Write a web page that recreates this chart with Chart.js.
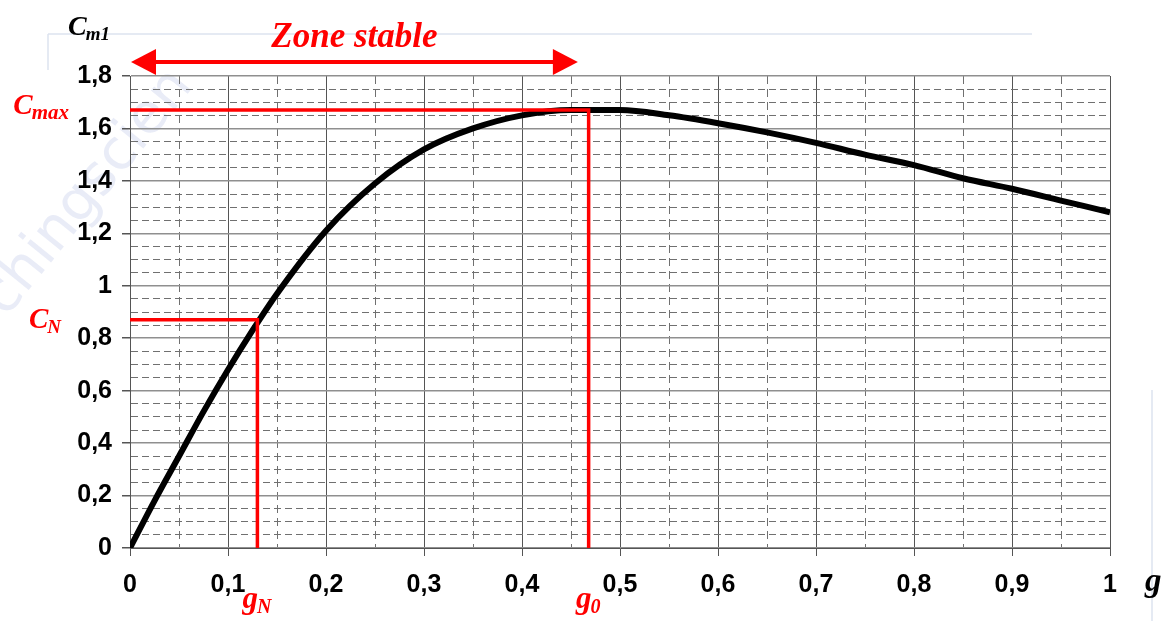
<!DOCTYPE html>
<html>
<head>
<meta charset="utf-8">
<script src="https://cdn.jsdelivr.net/npm/chart.js@4.4.0/dist/chart.umd.min.js"></script>
<style>
    html, body { margin: 0; padding: 0; background: #fff; }
    #dashboard { width: 1170px; height: 621px; position: relative; }
</style>
</head>
<body>
<div id="dashboard"><canvas id="myChart"></canvas></div>
<script>
// glissement g et couple Cm1
const gValues = [0, 0.025, 0.05, 0.075, 0.1, 0.125, 0.15, 0.2, 0.25, 0.3, 0.35, 0.4, 0.45, 0.5,
    0.55, 0.6, 0.65, 0.7, 0.75, 0.8, 0.85, 0.9, 0.95, 1];
const cValues = [0, 0.18, 0.35, 0.52, 0.68, 0.83, 0.97, 1.21, 1.39, 1.52, 1.60, 1.65, 1.67, 1.67,
    1.65, 1.62, 1.585, 1.545, 1.50, 1.46, 1.41, 1.37, 1.325, 1.28];

// points remarquables
const gN = 0.13;
const cN = 0.87;
const g0 = 0.468;
const cMax = 1.67;
const zoneStable = [0, 0.457];

const xRange = [0, 1];
const yRange = [0, 1.8];

const RED = '#ff0000';
const SERIF = '"Liberation Serif", "Times New Roman", serif';

function isMajor(value, step) {
    return Math.round(value * 100) % step === 0;
}

function tickText(value) {
    return String(Math.round(value * 10) / 10).replace('.', ',');
}

// texte avec indice
function subText(ctx, x, y, main, sub, size, subSize, color, align) {
    ctx.font = 'bold italic ' + size + 'px ' + SERIF;
    var w1 = ctx.measureText(main).width;
    ctx.font = 'bold italic ' + subSize + 'px ' + SERIF;
    var w2 = ctx.measureText(sub).width;
    var start = x;
    if (align === 'right') start = x - w1 - w2;
    if (align === 'center') start = x - (w1 + w2) / 2;
    ctx.fillStyle = color;
    ctx.textAlign = 'left';
    ctx.textBaseline = 'alphabetic';
    ctx.font = 'bold italic ' + size + 'px ' + SERIF;
    ctx.fillText(main, start, y);
    ctx.font = 'bold italic ' + subSize + 'px ' + SERIF;
    ctx.fillText(sub, start + w1 - 1, y + 5);
}

const annotations = {
    id: 'annotations',
    beforeDraw(chart) {
        var ctx = chart.ctx;
        ctx.save();
        // filigrane
        ctx.translate(6, 318);
        ctx.rotate(-51 * Math.PI / 180);
        ctx.font = '56px "DejaVu Sans", sans-serif';
        ctx.fillStyle = 'rgba(175, 188, 225, 0.28)';
        ctx.fillText('chingscien', 0, 0);
        ctx.restore();

        // cadre clair
        ctx.save();
        ctx.strokeStyle = '#dde3ef';
        ctx.lineWidth = 1.5;
        ctx.beginPath();
        ctx.moveTo(48, 34);
        ctx.lineTo(1032, 34);
        ctx.moveTo(48, 34);
        ctx.lineTo(48, 70);
        ctx.moveTo(1152, 390);
        ctx.lineTo(1152, 621);
        ctx.stroke();
        ctx.restore();
    },
    afterDraw(chart) {
        var ctx = chart.ctx;
        var xs = chart.scales.x;
        var ys = chart.scales.y;
        var area = chart.chartArea;
        ctx.save();

        // titres des axes
        subText(ctx, 68, 35, 'C', 'm1', 28, 19, '#000', 'left');
        ctx.fillStyle = '#000';
        ctx.font = 'bold italic 33px ' + SERIF;
        ctx.textAlign = 'left';
        ctx.fillText('g', 1145, 591);

        // zone stable
        var ya = area.top - 14;
        var xa = xs.getPixelForValue(zoneStable[0]) + 1;
        var xb = xs.getPixelForValue(zoneStable[1]);
        ctx.strokeStyle = RED;
        ctx.fillStyle = RED;
        ctx.lineWidth = 4;
        ctx.beginPath();
        ctx.moveTo(xa + 20, ya);
        ctx.lineTo(xb - 20, ya);
        ctx.stroke();
        ctx.beginPath();
        ctx.moveTo(xa, ya);
        ctx.lineTo(xa + 25, ya - 13);
        ctx.lineTo(xa + 25, ya + 13);
        ctx.closePath();
        ctx.fill();
        ctx.beginPath();
        ctx.moveTo(xb, ya);
        ctx.lineTo(xb - 25, ya - 13);
        ctx.lineTo(xb - 25, ya + 13);
        ctx.closePath();
        ctx.fill();
        ctx.font = 'bold italic 35px ' + SERIF;
        ctx.textAlign = 'center';
        ctx.fillText('Zone stable', (xa + xb) / 2, 47);

        // etiquettes rouges
        subText(ctx, 70, ys.getPixelForValue(cMax) + 4, 'C', 'max', 29, 21, RED, 'right');
        subText(ctx, 62, ys.getPixelForValue(cN) + 8, 'C', 'N', 29, 19, RED, 'right');
        subText(ctx, xs.getPixelForValue(gN), 608, 'g', 'N', 31, 20, RED, 'center');
        subText(ctx, xs.getPixelForValue(g0), 608, 'g', '0', 31, 20, RED, 'center');
        ctx.restore();
    }
};

const curve = gValues.map(function (g, i) { return {x: g, y: cValues[i]}; });

const data = {
    datasets: [{
        label: 'Cmax',
        data: [{x: xRange[0], y: cMax}, {x: g0, y: cMax}, {x: g0, y: yRange[0]}],
        borderColor: RED,
        borderWidth: 3.5,
        pointRadius: 0,
        tension: 0
    }, {
        label: 'CN',
        data: [{x: xRange[0], y: cN}, {x: gN, y: cN}, {x: gN, y: yRange[0]}],
        borderColor: RED,
        borderWidth: 3.5,
        pointRadius: 0,
        tension: 0
    }, {
        label: 'Cm1',
        data: curve,
        borderColor: '#000',
        borderWidth: 6,
        pointRadius: 0,
        cubicInterpolationMode: 'monotone'
    }]
};

const config = {
    type: 'line',
    data: data,
    options: {
        responsive: true,
        maintainAspectRatio: false,
        animation: false,
        layout: { padding: { left: 0, right: 60, top: 76, bottom: 0 } },
        plugins: {
            legend: { display: false },
            tooltip: { enabled: false }
        },
        scales: {
            x: {
                type: 'linear',
                min: xRange[0],
                max: xRange[1],
                afterFit: function (scale) { scale.height = 73; },
                ticks: {
                    stepSize: 0.05,
                    autoSkip: false,
                    maxRotation: 0,
                    padding: 14,
                    color: '#000',
                    font: { family: '"Liberation Sans", Arial, sans-serif', size: 25, weight: 'bold' },
                    callback: function (value) { return isMajor(value, 10) ? tickText(value) : ''; }
                },
                grid: {
                    tickLength: 8,
                    color: function (c) { return c.tick && isMajor(c.tick.value, 10) ? '#555' : '#707070'; },
                    tickColor: function (c) { return c.tick && isMajor(c.tick.value, 10) ? '#555' : 'rgba(0,0,0,0)'; }
                },
                border: {
                    color: '#555',
                    dash: function (c) { return c.tick && !isMajor(c.tick.value, 10) ? [8, 5] : []; }
                }
            },
            y: {
                min: yRange[0],
                max: yRange[1],
                afterFit: function (scale) { scale.width = 130; },
                ticks: {
                    stepSize: 0.05,
                    autoSkip: false,
                    padding: 10,
                    color: '#000',
                    font: { family: '"Liberation Sans", Arial, sans-serif', size: 25, weight: 'bold' },
                    callback: function (value) { return isMajor(value, 20) ? tickText(value) : ''; }
                },
                grid: {
                    tickLength: 8,
                    lineWidth: function (c) { return c.tick && isMajor(c.tick.value, 20) ? 1.5 : 1; },
                    color: function (c) { return c.tick && isMajor(c.tick.value, 20) ? '#8f8f8f' : '#707070'; },
                    tickColor: function (c) { return c.tick && isMajor(c.tick.value, 20) ? '#555' : 'rgba(0,0,0,0)'; }
                },
                border: {
                    color: '#555',
                    dash: function (c) { return c.tick && !isMajor(c.tick.value, 20) ? [7, 4] : []; }
                }
            }
        }
    },
    plugins: [annotations]
};

new Chart(document.getElementById('myChart'), config);
</script>
</body>
</html>
